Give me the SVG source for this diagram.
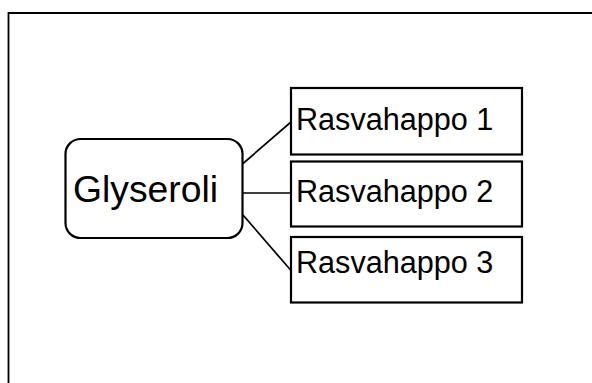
<svg xmlns="http://www.w3.org/2000/svg" width="592" height="383" viewBox="0 0 592 383">
<style>
.box{fill:#fff;stroke:#000;stroke-width:2.2}
.lbl{font-family:"Liberation Sans",Arial,sans-serif;fill:#000}
.conn{stroke:#000;stroke-width:1.7;fill:none}
</style>
<rect x="0" y="0" width="592" height="383" fill="#fff"/>
<path d="M8.5,383 V13 H592" fill="none" stroke="#000" stroke-width="1.8"/>
<g id="connectors">
<line class="conn" x1="243" y1="163.5" x2="291" y2="122"/>
<line class="conn" x1="243" y1="193" x2="291" y2="193"/>
<line class="conn" x1="243" y1="215" x2="291" y2="270.5"/>
</g>
<g id="glyseroli">
<rect class="box" x="65.5" y="139" width="177" height="99" rx="15" ry="15"/>
<text class="lbl" x="73" y="202" font-size="37.3">Glyseroli</text>
</g>
<g id="rasvahappo1">
<rect class="box" x="291" y="88" width="231" height="66.5"/>
<text class="lbl" x="296" y="130" font-size="30.6">Rasvahappo 1</text>
</g>
<g id="rasvahappo2">
<rect class="box" x="291" y="161.5" width="231" height="65"/>
<text class="lbl" x="296" y="201.5" font-size="30.6">Rasvahappo 2</text>
</g>
<g id="rasvahappo3">
<rect class="box" x="291" y="237" width="231" height="65.5"/>
<text class="lbl" x="296" y="272.5" font-size="30.6">Rasvahappo 3</text>
</g>
</svg>
